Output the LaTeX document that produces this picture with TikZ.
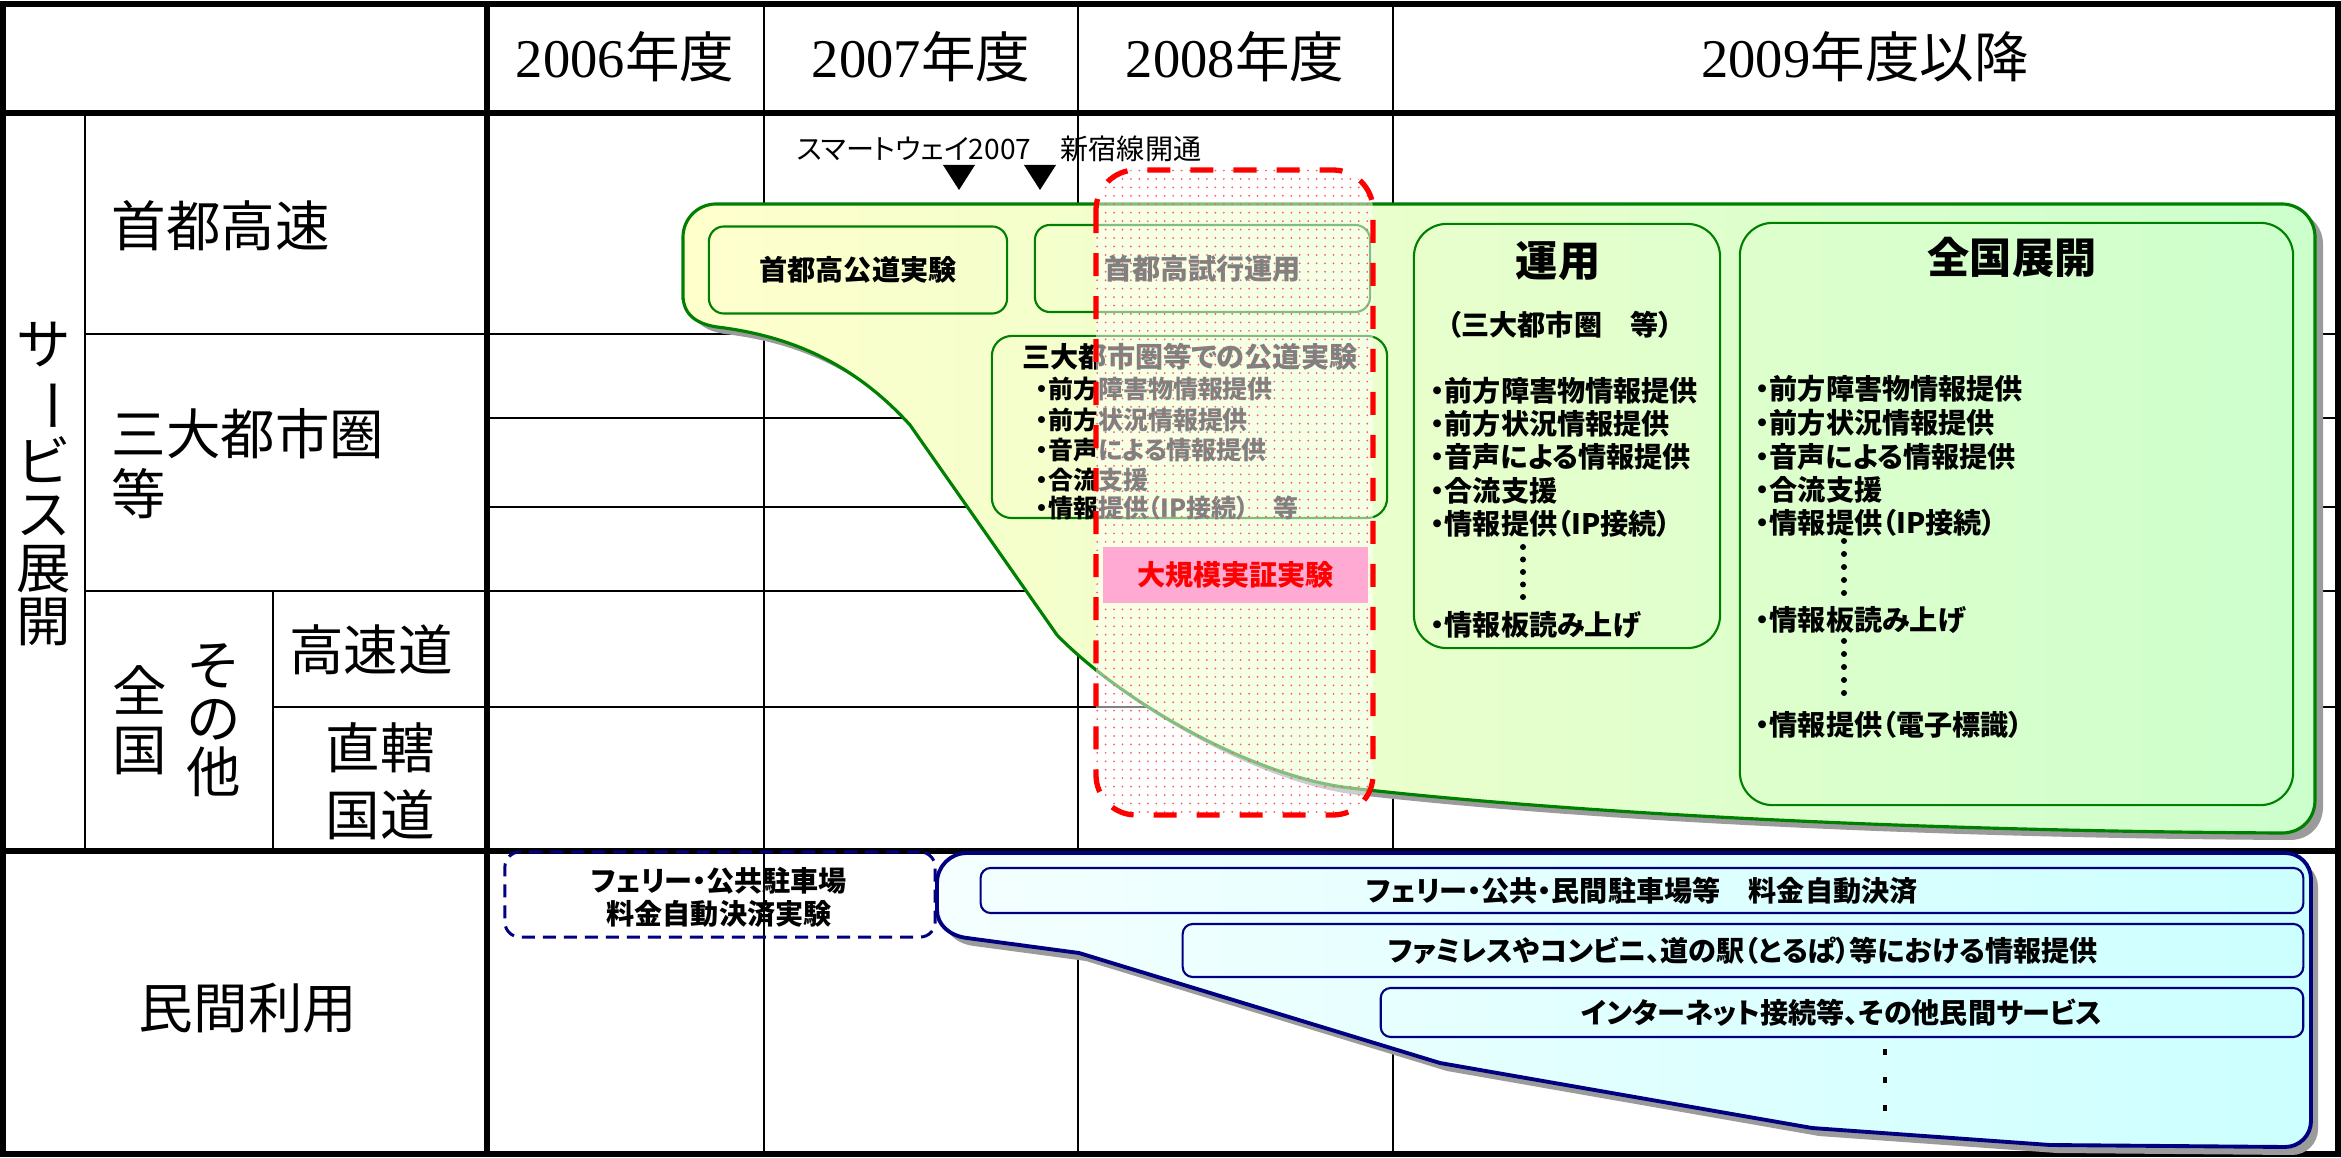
\documentclass[tikz,border=0pt]{standalone}
\usepackage{fontspec}
\usepackage{graphicx}
\usetikzlibrary{patterns.meta}
\newfontfamily\jp[RawFeature=+palt]{Noto Sans CJK JP}
\newfontfamily\jpf{Noto Sans CJK JP}
\newfontfamily\dig{Liberation Serif}
\definecolor{dkgreen}{RGB}{0,128,0}
\definecolor{navyb}{RGB}{0,0,128}
\definecolor{ltyellow}{RGB}{255,255,204}
\definecolor{ltgreen}{RGB}{204,255,204}
\definecolor{ltcyan}{RGB}{204,255,255}
\definecolor{ltcyanL}{RGB}{245,255,255}
\definecolor{pinkfill}{RGB}{255,170,210}
\definecolor{shadowgray}{RGB}{155,155,155}
\begin{document}
\begin{tikzpicture}[x=0.01cm, y=-0.01cm,
  thickline/.style={line width=1.6pt},
  thinline/.style={line width=0.75pt},
  biglabel/.style={font=\jpf\fontsize{15.5}{15}\selectfont, inner sep=0pt},
  hdr/.style={font=\jpf\fontsize{15.5}{16}\selectfont, inner sep=0pt},
  note/.style={font=\jp\fontsize{8}{9}\selectfont, inner sep=0pt},
  bt/.style={font=\jp\bfseries\fontsize{8}{9}\selectfont, inner sep=0pt},
  bts/.style={font=\jp\bfseries\fontsize{7.1}{8}\selectfont, inner sep=0pt},
  ttl/.style={font=\jp\bfseries\fontsize{12}{13}\selectfont, inner sep=0pt},
  gbox/.style={draw=dkgreen, line width=0.6pt, rounded corners=0.15cm, inner sep=0pt},
  gbigbox/.style={draw=dkgreen, line width=0.6pt, rounded corners=0.33cm, inner sep=0pt},
  bbox/.style={draw=navyb, line width=0.6pt, rounded corners=0.1cm, inner sep=0pt},
  vdot/.style={circle, fill=black, inner sep=0pt, minimum size=0.06cm},
]
\useasboundingbox (0,0) rectangle (2341,1158);
\fill[white] (0,0) rectangle (2341,1158);

% ---------------- grid ----------------
\draw[thinline] (764,4) -- (764,1154);
\draw[thinline] (1078,4) -- (1078,1154);
\draw[thinline] (1393,4) -- (1393,1154);
\draw[thinline] (85,113) -- (85,851);
\draw[thinline] (273,591) -- (273,851);
\draw[thinline] (85,334) -- (2338,334);
\draw[thinline] (487,418) -- (2338,418);
\draw[thinline] (487,507) -- (2338,507);
\draw[thinline] (85,591) -- (2338,591);
\draw[thinline] (273,707) -- (2338,707);
\draw[thickline] (487,4) -- (487,1154);
\draw[line width=1.8pt] (3,113) -- (2338,113);
\draw[line width=1.8pt] (3,851) -- (2338,851);
\draw[thickline] (3,4) rectangle (2338,1154);

% ---------------- headers ----------------
\node[hdr] (h06) at (625,57) {{\dig 2006}年度};
\node[hdr] (h07) at (921,57) {{\dig 2007}年度};
\node[hdr] (h08) at (1235,57) {{\dig 2008}年度};
\node[hdr] (h09) at (1865,57) {{\dig 2009}年度以降};

% ---------------- row labels ----------------
\node[biglabel, anchor=west] (shuto) at (111,226) {首都高速};
\node[biglabel, anchor=west] (sandai) at (111,434) {三大都市圏};
\node[biglabel, anchor=west] (tou) at (111,494) {等};
\node[biglabel, align=center, font=\jpf\fontsize{15.5}{15.1}\selectfont] (svc) at (44,484)
  {サ\\\rotatebox[origin=c]{-90}{ー}\\ビ\\ス\\展\\開};
\node[biglabel, align=center, font=\jpf\fontsize{15.5}{16.8}\selectfont] (zenkoku) at (140,720) {全\\国};
\node[biglabel, align=center, font=\jpf\fontsize{15.5}{15.2}\selectfont] (sonota) at (214,720) {そ\\の\\他};
\node[biglabel] (kosoku) at (371,650) {高速道};
\node[biglabel, align=center, font=\jpf\fontsize{15.5}{19}\selectfont] (chokkatsu) at (380,781) {直轄\\国道};
\node[biglabel] (minkan) at (248,1008) {民間利用};

% ---------------- milestones ----------------
\node[note] (sw) at (914,149) {スマートウェイ2007};
\node[note] (shin) at (1131,149) {新宿線開通};
\fill (943,165) -- (975,165) -- (959,190) -- cycle;
\fill (1024,165) -- (1056,165) -- (1040,190) -- cycle;

% ---------------- green shape ----------------
\def\greenpath{(683,300) -- (683,237) .. controls (683,218.8) and (697.8,204) .. (716,204)
  -- (2282,204) .. controls (2300.2,204) and (2315,218.8) .. (2315,237)
  -- (2315,800) .. controls (2315,818) and (2302,833) .. (2282,833)
  .. controls (1900,831) and (1560,812) .. (1350,788)
  .. controls (1250,776) and (1120,700) .. (1057,635)
  -- (910,425) .. controls (860,370) and (800,337) .. (717,327)
  .. controls (697,324) and (683,315) .. (683,295) -- cycle}
\fill[shadowgray, shift={(8,7)}] \greenpath;
\shadedraw[left color=ltyellow, right color=ltgreen, draw=dkgreen, line width=0.9pt] \greenpath;

\node[gbox, bt, minimum width=2.98cm, minimum height=0.87cm] (kodo) at (858,270) {首都高公道実験};
\node[gbox, bt, minimum width=3.35cm, minimum height=0.87cm] (shiko) at (1202.5,268.5) {首都高試行運用};
\node[gbox, rounded corners=0.2cm, minimum width=3.95cm, minimum height=1.82cm] (sanbox) at (1189.5,427) {};
\node[bt, anchor=west] (santitle) at (1022,357) {三大都市圏等での公道実験};
\node[bts, anchor=west] (s1) at (1035,389) {・前方障害物情報提供};
\node[bts, anchor=west] (s2) at (1035,420) {・前方状況情報提供};
\node[bts, anchor=west] (s3) at (1035,450) {・音声による情報提供};
\node[bts, anchor=west] (s4) at (1035,480) {・合流支援};
\node[bts, anchor=west] (s5) at (1035,508) {・情報提供（IP接続）　等};

% 運用
\node[gbigbox, minimum width=3.06cm, minimum height=4.24cm] (unyo) at (1567,436) {};
\node[ttl] (unyot) at (1558,261) {運用};
\node[bt] (unyos) at (1560,325) {（三大都市圏　等）};
\node[bt, anchor=west] (u1) at (1430,391) {・前方障害物情報提供};
\node[bt, anchor=west] (u2) at (1430,424) {・前方状況情報提供};
\node[bt, anchor=west] (u3) at (1430,457) {・音声による情報提供};
\node[bt, anchor=west] (u4) at (1430,491) {・合流支援};
\node[bt, anchor=west] (u5) at (1430,524) {・情報提供（IP接続）};
\foreach \yy [count=\i] in {547,559.5,572,584.5,597} \node[vdot] (ud\i) at (1523,\yy) {};
\node[bt, anchor=west] (u6) at (1430,625) {・情報板読み上げ};

% 全国展開
\node[gbigbox, minimum width=5.53cm, minimum height=5.82cm] (zenbox) at (2016.5,514) {};
\node[ttl] (zent) at (2012,257) {全国展開};
\node[bt, anchor=west] (z1) at (1755,389) {・前方障害物情報提供};
\node[bt, anchor=west] (z2) at (1755,423) {・前方状況情報提供};
\node[bt, anchor=west] (z3) at (1755,457) {・音声による情報提供};
\node[bt, anchor=west] (z4) at (1755,490) {・合流支援};
\node[bt, anchor=west] (z5) at (1755,523) {・情報提供（IP接続）};
\foreach \yy [count=\i] in {541,554,567,580,593} \node[vdot] (zda\i) at (1844,\yy) {};
\node[bt, anchor=west] (z6) at (1755,620) {・情報板読み上げ};
\foreach \yy [count=\i] in {641,654,667,680,693} \node[vdot] (zdb\i) at (1844,\yy) {};
\node[bt, anchor=west] (z7) at (1755,725) {・情報提供（電子標識）};

% ---------------- red trial overlay ----------------
\fill[white, fill opacity=0.5, rounded corners=0.4cm] (1096,170) rectangle (1373,815);
\fill[pattern={Dots[distance=2.4pt, radius=0.28pt]}, pattern color=red!65, rounded corners=0.4cm] (1096,170) rectangle (1373,815);
\draw[red, line width=1.5pt, dash pattern=on 0.23cm off 0.2cm, rounded corners=0.4cm] (1096,170) rectangle (1373,815);
\node[fill=pinkfill, minimum width=2.65cm, minimum height=0.56cm, inner sep=0pt, bt, text=red] (bigtrial) at (1235.5,575) {大規模実証実験};

% ---------------- private use ----------------
\node[draw=navyb, line width=0.85pt, dash pattern=on 0.13cm off 0.08cm, rounded corners=0.15cm,
      minimum width=4.3cm, minimum height=0.85cm, inner sep=0pt] (ferry0) at (720,894.5) {};
\node[bt, align=center, font=\jp\bfseries\fontsize{8}{9.4}\selectfont] (ferry0t) at (719,897) {フェリー・公共駐車場\\料金自動決済実験};

\def\bluepath{(937,883) .. controls (937,866.4) and (950.4,853) .. (967,853)
  -- (2285,853) .. controls (2299.4,853) and (2311,864.6) .. (2311,879)
  -- (2311,1121) .. controls (2311,1135.4) and (2299.4,1147) .. (2285,1147)
  -- (2050,1145) -- (1812,1128) -- (1440,1063) -- (1079,953) -- (967,938)
  .. controls (950,936) and (937,925) .. (937,910) -- cycle}
\fill[shadowgray, shift={(7,8)}] \bluepath;
\shadedraw[left color=ltcyanL, right color=ltcyan, draw=navyb, line width=1.1pt] \bluepath;

\node[bbox, bt, minimum width=13.22cm, minimum height=0.45cm] (c1) at (1642,890.5) {フェリー・公共・民間駐車場等　料金自動決済};
\node[bbox, bt, minimum width=11.2cm, minimum height=0.53cm] (c2) at (1743,950.5) {ファミレスやコンビニ、道の駅（とるぱ）等における情報提供};
\node[bbox, bt, minimum width=9.22cm, minimum height=0.49cm] (c3) at (1842,1012.5) {インターネット接続等、その他民間サービス};
\foreach \yy in {1052,1080,1108} \fill (1883,\yy-3) rectangle (1887,\yy+3);
\end{tikzpicture}
\end{document}
